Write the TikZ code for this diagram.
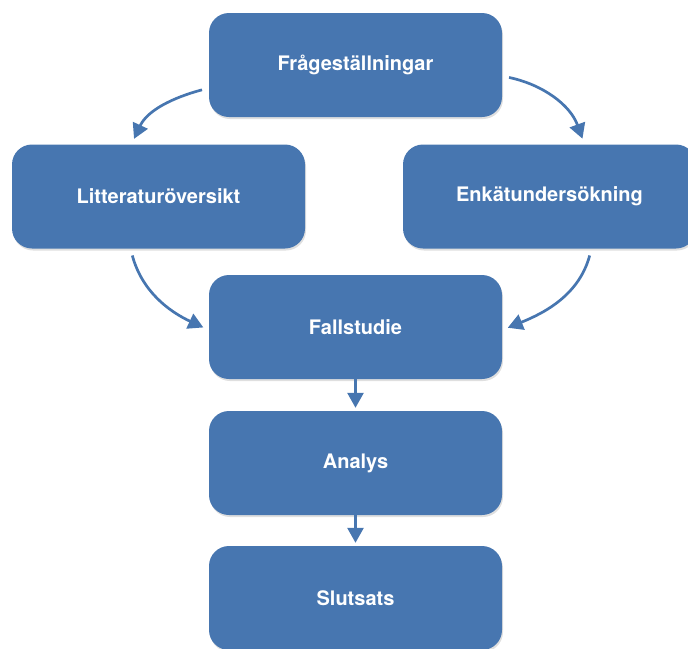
\documentclass[tikz,border=0pt]{standalone}
\usepackage{fontspec}
\setmainfont{TeX Gyre Heros}
\usepackage{xcolor}
\usetikzlibrary{arrows.meta, shadows}
\definecolor{boxblue}{RGB}{71,118,176}

\begin{document}
\begin{tikzpicture}[x=1pt, y=-1pt,
        every node/.style={rectangle, rounded corners=20pt, fill=boxblue, text=white,
            minimum width=293pt, minimum height=104pt, align=center,
            font=\fontsize{20}{24}\selectfont\bfseries,
            drop shadow={opacity=0.25, shadow xshift=1pt, shadow yshift=-2pt}},
        flow/.style={draw=boxblue, line width=2.7pt, -{Triangle[length=15pt, width=16pt]}},
        curved/.style={flow, shorten <=7pt, shorten >=6pt}]
        \useasboundingbox (0,0) rectangle (688,648);
        % Nodes
        \node (fragor) at (355.5,65) {Frågeställningar};
        \node (litt) at (158.5,196.5) {Litteraturöversikt};
        \node (enkat) at (549.5,196.5) {Enkätundersökning};
        \node (fall) at (355.5,327) {Fallstudie};
        \node (analys) at (355.5,463) {Analys};
        \node (slutsats) at (355.5,598) {Slutsats};

        % Arrows
        \draw[curved] ([yshift=-23pt]fragor.west) to[out=195, in=65] ([xshift=-27pt]litt.north);
        \draw[curved] ([yshift=-11pt]fragor.east) to[out=-12, in=110] ([xshift=35pt]enkat.north);
        \draw[curved] ([xshift=-28pt]litt.south) to[out=-75, in=155] ([yshift=-3pt]fall.west);
        \draw[curved] ([xshift=42pt]enkat.south) to[out=-105, in=22] ([yshift=-3pt]fall.east);
        \draw[flow, shorten >=3pt] (fall) -- (analys);
        \draw[flow, shorten >=3pt] (analys) -- (slutsats);
    \end{tikzpicture}
\end{document}
